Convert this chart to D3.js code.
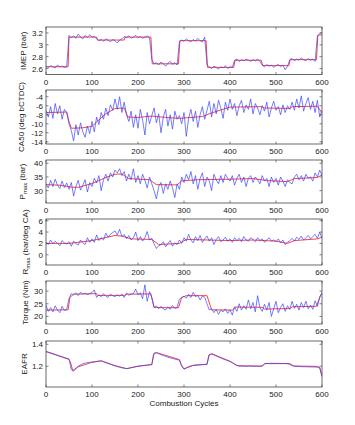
<!DOCTYPE html>
<html>
<head>
<meta charset="utf-8">
<script src="https://cdn.jsdelivr.net/npm/d3@7"></script>
<style>
  html, body { margin: 0; padding: 0; background: #fff; }
  svg { display: block; font-family: "Liberation Sans", Arial, sans-serif; }
  .tick-label { font-size: 8px; fill: #222; }
  .axis-label { font-size: 8px; fill: #222; }
</style>
</head>
<body>
<svg id="chart" width="355" height="425"></svg>
<script>
// cycles 0, 5, 10 ... 600
const cycles = d3.range(0, 601, 5);
const xTicks = [0, 100, 200, 300, 400, 500, 600];

const imepBlue = [
  2.64, 2.62, 2.65, 2.63, 2.61, 2.66, 2.63, 2.64, 2.62, 2.63,
  3.16,
  3.12, 3.15, 3.11, 3.18, 3.13, 3.10, 3.16, 3.12, 3.17, 3.13, 3.14,
  3.10, 3.07, 3.09, 3.06, 3.10, 3.08, 3.05, 3.09, 3.07, 3.03, 3.08, 3.10,
  3.14, 3.12, 3.15, 3.11, 3.13, 3.16, 3.12, 3.14, 3.11, 3.13, 3.15, 3.12,
  2.75,
  2.68, 2.70, 2.66, 2.71, 2.68, 2.64, 2.69, 2.72, 2.67, 2.70, 2.66,
  3.05,
  3.08, 3.06, 3.10, 3.07, 3.05, 3.09, 3.06, 3.11, 3.07, 3.05, 3.13,
  2.66,
  2.63, 2.60, 2.64, 2.62, 2.59, 2.63, 2.61, 2.65, 2.60, 2.63, 2.62,
  2.74, 2.76, 2.72, 2.75, 2.73, 2.76, 2.74, 2.72, 2.75, 2.73, 2.76, 2.72,
  2.66, 2.63, 2.67, 2.64, 2.66, 2.62, 2.65, 2.67, 2.63, 2.66, 2.58, 2.64,
  2.75, 2.77, 2.73, 2.76, 2.74, 2.78, 2.75, 2.73, 2.77, 2.74, 2.76, 2.72,
  3.15, 3.19, 3.21
];
const imepRed = [
  [0, 2.63], [48, 2.63], [50, 3.13], [110, 3.13], [112, 3.08], [170, 3.08],
  [172, 3.13], [228, 3.13], [231, 2.68], [288, 2.68], [291, 3.07], [348, 3.07],
  [351, 2.62], [408, 2.62], [411, 2.74], [468, 2.74], [471, 2.65], [528, 2.65],
  [531, 2.75], [588, 2.75], [591, 3.16], [600, 3.17]
];

const ca50Blue = [
  -7.0, -8.5, -6.2, -8.8, -5.5, -7.8, -6.0, -9.0, -6.8, -7.5,
  -10.0, -11.5, -13.8, -10.2, -12.5, -9.8, -11.8, -13.0, -10.5, -12.2, -9.5,
  -11.8, -8.5, -10.2, -7.5, -9.0, -6.5, -8.2, -5.8, -7.0,
  -4.5, -6.8, -4.0, -7.5, -5.2, -8.0,
  -9.5, -7.2, -10.8, -8.0, -11.0, -6.8, -9.2, -12.5, -7.5, -10.0, -8.2,
  -6.5, -9.8, -7.8, -12.0, -8.5, -6.8, -10.5, -8.0, -11.2, -7.2, -9.0,
  -8.2, -10.0, -7.5, -12.8, -8.8, -6.8, -9.5, -7.2, -10.8, -8.0, -6.2, -9.0,
  -7.0, -5.0, -8.5, -5.5, -7.8, -4.8, -6.5, -8.8, -5.2, -7.0, -4.5,
  -6.8, -5.5, -8.2, -6.0, -4.8, -7.5, -5.8, -6.8, -4.5, -7.8, -5.5, -6.5, -8.0,
  -6.0, -7.2, -5.2, -8.5, -6.5, -5.0, -7.0, -6.2, -8.0, -5.8, -7.5, -6.0, -6.8,
  -5.2, -7.0, -4.5, -6.5, -3.8, -7.2, -5.5, -4.2, -6.8, -5.0, -7.5, -4.8, -8.5, -7.0
];
const ca50Red = [
  [0, -7.5], [45, -7.4], [50, -9.5], [55, -11.0], [80, -10.9], [100, -10.6],
  [110, -9.6], [130, -7.8], [150, -6.6], [170, -6.5], [178, -8.5], [200, -8.6],
  [230, -8.3], [260, -8.6], [290, -8.8], [340, -8.4], [360, -7.6], [400, -6.3],
  [470, -6.2], [475, -6.5], [530, -6.6], [535, -6.2], [590, -6.1], [600, -7.6]
];

const pmaxBlue = [
  32.5, 31.0, 33.8, 31.5, 34.2, 32.0, 30.8, 33.5, 31.2, 32.8,
  30.5, 33.0, 28.0, 31.5, 33.8, 30.2, 32.0, 34.0, 29.5, 33.0,
  31.5, 34.5, 32.8, 35.5, 30.0, 34.0, 36.0, 33.5, 36.5, 35.0,
  37.5, 36.5, 38.0, 35.5, 37.0, 33.5, 36.0, 34.0, 38.0, 33.0,
  35.5, 32.5, 36.0, 33.8, 31.0, 35.0, 32.5, 30.0, 27.0, 31.5,
  33.0, 29.0, 32.5, 30.5, 33.5, 31.0, 27.5, 32.5, 30.5, 35.0,
  33.0, 36.0, 34.0, 37.0, 32.5, 35.5, 30.5, 34.5, 36.5, 31.5,
  35.0, 33.5, 30.0, 36.0, 34.0, 32.5, 35.5, 33.0, 36.0, 34.5,
  33.5, 35.5, 32.0, 34.5, 36.0, 33.0, 35.0, 31.5, 34.5, 35.5,
  33.0, 35.0, 34.0, 32.5, 35.5, 33.5, 34.5, 31.5, 35.0, 33.0,
  34.5, 32.0, 35.0, 33.5, 31.5, 34.0, 33.0, 32.5, 35.0, 36.0,
  34.0, 35.5, 33.5, 36.0, 34.5, 35.0, 33.5, 36.5, 35.0, 37.5,
  35.5
];
const pmaxRed = [
  [0, 32.2], [30, 32.0], [55, 31.3], [70, 31.2], [100, 32.6], [130, 34.8],
  [150, 36.0], [165, 36.1], [180, 34.4], [225, 34.0], [240, 32.2], [285, 32.1],
  [295, 33.6], [330, 34.0], [400, 34.2], [450, 34.4], [480, 33.7], [525, 33.3],
  [540, 34.4], [590, 34.8], [600, 35.8]
];

const rmaxBlue = [
  2.2, 1.8, 2.6, 1.9, 2.4, 2.0, 1.6, 2.5, 2.1, 1.9,
  2.3, 1.5, 2.4, 2.0, 1.7, 2.6, 2.1, 1.8, 3.0, 2.2,
  2.8, 2.2, 3.5, 2.5, 3.0, 2.6, 3.8, 3.1, 3.6, 3.9,
  4.2, 3.5, 4.5, 3.2, 3.6, 2.8, 3.4, 2.6, 3.0, 4.0,
  2.5, 3.2, 2.4, 3.0, 4.1, 2.6, 2.9, 1.9, 1.1, 1.6,
  1.8, 2.3, 1.4, 2.0, 2.5, 1.5, 2.1, 1.8, 2.6, 2.0,
  3.0, 2.4, 3.6, 2.6, 2.1, 3.2, 2.5, 3.4, 2.2, 2.8,
  3.3, 2.4, 3.0, 1.8, 2.7, 3.2, 2.3, 2.6, 3.1, 2.4,
  2.8, 2.2, 3.0, 2.5, 2.9, 2.3, 3.2, 2.6, 2.4, 3.0,
  2.7, 2.3, 3.0, 2.5, 2.8, 2.2, 2.6, 3.0, 2.4, 2.6,
  2.3, 2.8, 2.1, 2.6, 1.8, 2.2, 2.5, 2.9, 2.4, 3.1,
  2.7, 3.3, 2.6, 3.0, 3.4, 2.8, 3.2, 3.6, 2.9, 4.0,
  2.9
];
const rmaxRed = [
  [0, 2.0], [50, 2.0], [100, 2.5], [150, 3.4], [165, 3.3], [185, 2.8],
  [230, 2.7], [245, 1.8], [290, 2.0], [305, 2.7], [400, 2.5], [450, 2.6],
  [500, 2.4], [525, 2.0], [540, 2.5], [590, 2.8], [600, 3.1]
];

const torqueBlue = [
  24.5, 22.0, 23.5, 21.8, 24.2, 22.5, 21.5, 24.0, 22.3, 22.8,
  27.0, 29.0, 28.5, 29.3, 28.2, 29.5, 28.8, 29.2, 28.6, 29.0,
  29.4, 30.5, 27.5, 28.5, 27.8, 29.0, 28.0, 27.5, 28.8, 28.2,
  27.8, 28.6, 28.0, 28.9, 27.5, 29.2, 28.4, 28.8, 29.0, 30.8,
  28.5, 29.3, 27.0, 32.5, 26.0, 29.8, 27.5, 23.5, 24.2, 23.0,
  24.0, 23.0, 22.5, 23.8, 22.8, 24.3, 23.2, 23.5, 26.8, 27.5,
  28.0, 27.2, 28.8, 27.5, 29.5, 27.8, 28.3, 26.5, 28.0, 27.6,
  25.0, 22.5, 23.0, 21.5, 22.8, 20.8, 22.5, 21.8, 23.0, 21.2,
  22.6, 20.5, 23.8, 22.0, 25.0, 22.5, 24.2, 22.8, 26.5, 23.0,
  25.5, 21.8, 28.2, 23.5, 22.0, 24.8, 22.5, 25.5, 20.0, 23.0,
  26.0, 21.5, 23.5, 25.0, 22.0, 24.2, 22.8, 26.0, 23.2, 24.8,
  22.5, 25.5, 23.5, 26.0, 23.0, 24.5, 22.8, 26.2, 24.0, 27.5,
  29.5
];
const torqueRed = [
  [0, 22.5], [48, 22.6], [52, 27.5], [60, 28.8], [110, 29.0], [112, 28.3],
  [170, 28.3], [175, 28.8], [228, 28.9], [235, 23.5], [288, 23.4], [295, 27.5],
  [305, 28.2], [350, 28.2], [360, 22.6], [405, 22.5], [412, 23.7], [470, 23.6],
  [475, 22.9], [530, 23.1], [535, 23.8], [588, 24.0], [596, 28.0], [600, 29.0]
];

const eafrBlue = [
  1.335, 1.328, 1.322, 1.315, 1.308, 1.300, 1.293, 1.286, 1.279, 1.272,
  1.266, 1.170, 1.155, 1.178, 1.200, 1.212, 1.222, 1.228, 1.232, 1.236,
  1.238, 1.240, 1.243, 1.246, 1.247, 1.240, 1.232, 1.225, 1.218, 1.210,
  1.203, 1.196, 1.190, 1.185, 1.182, 1.178, 1.180, 1.186, 1.190, 1.195,
  1.199, 1.202, 1.205, 1.207, 1.210, 1.212, 1.214, 1.320, 1.322, 1.314,
  1.305, 1.297, 1.290, 1.283, 1.276, 1.270, 1.265, 1.260, 1.255, 1.200,
  1.172, 1.185, 1.196, 1.203, 1.208, 1.211, 1.213, 1.214, 1.215, 1.216,
  1.217, 1.305, 1.310, 1.302, 1.293, 1.284, 1.275, 1.266, 1.258, 1.250,
  1.242, 1.232, 1.220, 1.208, 1.200, 1.199, 1.200, 1.198, 1.200, 1.201,
  1.199, 1.200, 1.201, 1.200, 1.205, 1.222, 1.226, 1.225, 1.227, 1.226,
  1.225, 1.226, 1.224, 1.225, 1.224, 1.222, 1.215, 1.205, 1.200, 1.199,
  1.197, 1.196, 1.195, 1.195, 1.194, 1.193, 1.193, 1.192, 1.190, 1.185,
  1.110
];
const eafrRed = [
  [0, 1.333], [50, 1.262], [53, 1.24], [58, 1.16], [70, 1.195], [100, 1.235],
  [120, 1.25], [150, 1.205], [175, 1.178], [200, 1.2], [230, 1.215], [234, 1.31],
  [240, 1.325], [290, 1.26], [294, 1.215], [300, 1.175], [320, 1.207], [350, 1.217],
  [354, 1.3], [360, 1.315], [400, 1.245], [415, 1.205], [470, 1.2], [476, 1.223],
  [530, 1.224], [538, 1.202], [590, 1.198], [595, 1.19], [600, 1.105]
];

const svg = d3.select("#chart");
const left = 46, right = 322;

const paneles = [
  { top: 27, bottom: 74.5, dom: [2.5, 3.3], ticks: [2.6, 2.8, 3.0, 3.2], blue: imepBlue, red: imepRed,
    label: [{ t: "IMEP (bar)" }], lx: 26 },
  { top: 90, bottom: 144, dom: [-14.5, -2.5], ticks: [-14, -12, -10, -8, -6, -4], blue: ca50Blue, red: ca50Red,
    label: [{ t: "CA50 (deg bCTDC)" }], lx: 24 },
  { top: 160, bottom: 203, dom: [25.5, 41.2], ticks: [30, 35, 40], blue: pmaxBlue, red: pmaxRed,
    label: [{ t: "P" }, { t: "max", sub: true }, { t: " (bar)" }], lx: 25 },
  { top: 219, bottom: 265, dom: [-1.8, 6.3], ticks: [0, 2, 4, 6], blue: rmaxBlue, red: rmaxRed,
    label: [{ t: "R" }, { t: "max", sub: true }, { t: " (bar/deg CA)" }], lx: 28 },
  { top: 281, bottom: 324, dom: [17, 34], ticks: [20, 25, 30], blue: torqueBlue, red: torqueRed,
    label: [{ t: "Torque (Nm)" }], lx: 28 },
  { top: 341, bottom: 387, dom: [1.01, 1.43], ticks: [1.2, 1.4], blue: eafrBlue, red: eafrRed,
    label: [{ t: "EAFR" }], lx: 26.5 }
];

const x = d3.scaleLinear().domain([0, 600]).range([left, right]);

function dibujarPanel(p, i) {
  const y = d3.scaleLinear().domain(p.dom).range([p.bottom, p.top]);
  const g = svg.append("g");

  g.append("clipPath").attr("id", "clip" + i)
    .append("rect").attr("x", left).attr("y", p.top)
    .attr("width", right - left).attr("height", p.bottom - p.top);

  const lineas = g.append("g").attr("clip-path", `url(#clip${i})`);

  const lineaRoja = d3.line().x(d => x(d[0])).y(d => y(d[1]));
  const lineaAzul = d3.line().x((d, j) => x(cycles[j])).y(d => y(d));

  lineas.append("path").datum(p.red)
    .attr("d", lineaRoja).attr("fill", "none")
    .attr("stroke", "#ff2a2a").attr("stroke-width", 0.9);

  lineas.append("path").datum(p.blue)
    .attr("d", lineaAzul).attr("fill", "none")
    .attr("stroke", "#3340ff").attr("stroke-width", 0.75)
    .attr("stroke-opacity", 0.9);

  // ticks: inward on all four sides (box on)
  const tl = 2.5;
  const ejes = g.append("g").attr("stroke", "#333").attr("stroke-width", 0.6);
  xTicks.forEach(t => {
    ejes.append("line").attr("x1", x(t)).attr("x2", x(t)).attr("y1", p.bottom).attr("y2", p.bottom - tl);
    ejes.append("line").attr("x1", x(t)).attr("x2", x(t)).attr("y1", p.top).attr("y2", p.top + tl);
  });
  p.ticks.forEach(t => {
    ejes.append("line").attr("x1", left).attr("x2", left + tl).attr("y1", y(t)).attr("y2", y(t));
    ejes.append("line").attr("x1", right).attr("x2", right - tl).attr("y1", y(t)).attr("y2", y(t));
  });

  g.append("rect").attr("x", left).attr("y", p.top)
    .attr("width", right - left).attr("height", p.bottom - p.top)
    .attr("fill", "none").attr("stroke", "#444").attr("stroke-width", 0.8);

  g.selectAll(".xl").data(xTicks).join("text")
    .attr("class", "tick-label")
    .attr("x", d => x(d)).attr("y", p.bottom + 10)
    .attr("text-anchor", "middle")
    .text(d => d);

  g.selectAll(".yl").data(p.ticks).join("text")
    .attr("class", "tick-label")
    .attr("x", left - 3).attr("y", d => y(d) + 3)
    .attr("text-anchor", "end")
    .text(d => String(d));

  const cy = (p.top + p.bottom) / 2;
  const lab = g.append("text").attr("class", "axis-label")
    .attr("transform", `translate(${p.lx},${cy}) rotate(-90)`)
    .attr("text-anchor", "middle");
  p.label.forEach(s => {
    const ts = lab.append("tspan").text(s.t);
    if (s.sub) ts.attr("font-size", "6px").attr("dy", 2);
    else if (lab.selectAll("tspan").size() > 1) ts.attr("dy", -2);
  });
}

paneles.forEach(dibujarPanel);

svg.append("text").attr("class", "axis-label")
  .attr("x", (left + right) / 2).attr("y", 406)
  .attr("text-anchor", "middle")
  .text("Combustion Cycles");
</script>
</body>
</html>
